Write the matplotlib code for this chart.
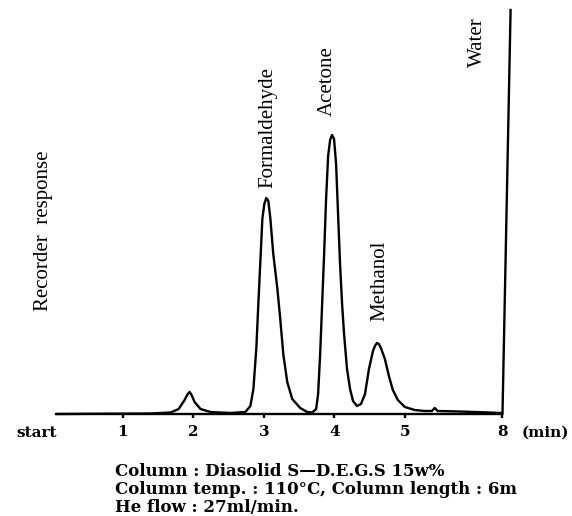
import matplotlib
matplotlib.use("Agg")
import matplotlib.pyplot as plt

# chromatogram trace
# time in minutes (chart positions; the "8" mark sits where the axis is cut short)
time_min = [0.053, 1.396, 1.678, 1.792, 1.876, 1.920, 1.947, 1.975, 2.018, 2.102,
            2.244, 2.526, 2.738, 2.809, 2.852, 2.894, 2.922, 2.951, 2.979, 3.007,
            3.035, 3.064, 3.092, 3.134, 3.191, 3.233, 3.276, 3.332, 3.403, 3.516,
            3.615, 3.686, 3.742, 3.770, 3.799, 3.827, 3.855, 3.883, 3.912, 3.940,
            3.968, 3.996, 4.025, 4.053, 4.081, 4.110, 4.138, 4.180, 4.223, 4.265,
            4.322, 4.378, 4.435, 4.491, 4.548, 4.576, 4.604, 4.632, 4.661, 4.717,
            4.774, 4.830, 4.901, 5.000, 5.141, 5.283, 5.382, 5.424, 5.466, 5.777,
            6.201, 6.357, 6.385, 6.442, 6.500]
response = [0, 0.5, 1.5, 5, 14, 20, 22, 19, 12, 5,
            2, 1, 2, 8, 25, 66, 110, 153, 195, 210,
            216, 213, 196, 160, 126, 95, 60, 32, 15, 6,
            2, 1.5, 5, 20, 60, 110, 160, 215, 258, 274,
            279, 275, 250, 200, 150, 110, 80, 45, 25, 13,
            8, 10, 20, 45, 63, 68, 71, 70, 66, 55,
            38, 24, 14, 7, 4, 3, 3, 6, 3, 2.5,
            1.5, 1, 0, 200, 404]

tick_pos = [1, 2, 3, 4, 5, 6.385]
tick_labels = ['1', '2', '3', '4', '5', '8']

peak_names = ['Formaldehyde', 'Acetone', 'Methanol', 'Water']
peak_label_t = [3.064, 3.897, 4.647, 6.032]
peak_label_y = [226, 298, 93, 347]

caption = ['Column : Diasolid S\u2014D.E.G.S 15w%',
           'Column temp. : 110\u00b0C, Column length : 6m',
           'He flow : 27ml/min.']

fig = plt.figure(figsize=(5.72, 5.16), dpi=100)
ax = fig.add_axes([0, 0, 1, 1])
ax.set_xlim(-0.742, 7.371)
ax.set_ylim(-102, 414)

ax.plot(time_min, response, color='black', lw=1.7, solid_joinstyle='round')

# baseline / time axis
for s in ['top', 'right', 'left']:
    ax.spines[s].set_visible(False)
ax.spines['bottom'].set_position(('data', 0))
ax.spines['bottom'].set_bounds(0.07, 6.385)
ax.spines['bottom'].set_linewidth(1.7)
ax.set_yticks([])
ax.set_xticks(tick_pos, tick_labels)
ax.tick_params(axis='x', direction='out', length=3, width=1.7, pad=5,
               labelsize=11)
for lab in ax.get_xticklabels():
    lab.set_fontfamily('DejaVu Serif')
    lab.set_fontweight('bold')

ax.text(-0.22, -19, 'start', ha='center', va='center', fontsize=11,
        family='DejaVu Serif', fontweight='bold')
ax.text(6.99, -19, '(min)', ha='center', va='center', fontsize=11,
        family='DejaVu Serif', fontweight='bold')

for name, t, y in zip(peak_names, peak_label_t, peak_label_y):
    ax.text(t, y, name, rotation=90, ha='center', va='bottom',
            fontsize=15, family='Liberation Serif')

ax.text(-0.131, 183, 'Recorder  response', rotation=90, ha='center',
        va='center', fontsize=15, family='Liberation Serif')

for i, line in enumerate(caption):
    ax.text(0.889, -57 - 18 * i, line, ha='left', va='center',
            fontsize=12, family='DejaVu Serif', fontweight='bold')

fig.savefig('out.png', dpi=100)
